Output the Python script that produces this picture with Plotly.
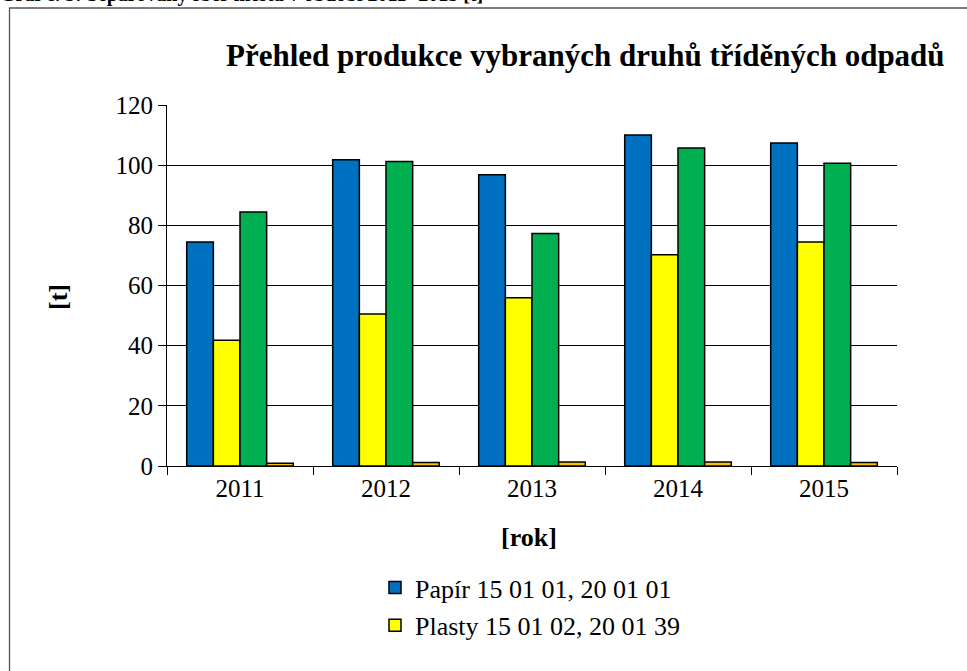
import plotly.graph_objects as go

years = ["2011", "2012", "2013", "2014", "2015"]
papir = [74.5, 101.8, 96.8, 110.0, 107.4]
plasty = [41.8, 50.5, 55.9, 70.2, 74.5]
sklo = [84.4, 101.2, 77.3, 105.7, 100.6]
kovy = [0.9, 1.2, 1.3, 1.3, 1.2]

names = ["Papír 15 01 01, 20 01 01", "Plasty 15 01 02, 20 01 39",
         "Sklo 15 01 07, 20 01 02", "Kovy 15 01 04, 20 01 40"]
colors = ["#0070C0", "#FFFF00", "#00B050", "#FFC000"]
series = [papir, plasty, sklo, kovy]
show = [True, True, False, False]

FONT = "Liberation Serif"

fig = go.Figure()
for nm, col, vals, sh in zip(names, colors, series, show):
    fig.add_trace(go.Bar(x=years, y=vals, name=nm, legendgroup=nm,
                         marker=dict(color=col, line=dict(color="black", width=1.5)),
                         showlegend=sh))

W, H = 967, 671
L, R, T, B = 167, 70, 105, 205
pw, ph = W - L - R, H - T - B

def px(x):
    return (x - L) / pw

def py(y):
    return (H - B - y) / ph

fig.update_layout(
    width=W, height=H,
    margin=dict(l=L, r=R, t=T, b=B),
    paper_bgcolor="white", plot_bgcolor="white",
    font=dict(family=FONT, size=25, color="black"),
    barmode="group", bargap=0.27, bargroupgap=0,
    showlegend=True,
    legend=dict(x=px(375), y=py(564), xanchor="left", yanchor="top",
                font=dict(family=FONT, size=26, color="black"),
                traceorder="grouped", tracegroupgap=1,
                bgcolor="rgba(0,0,0,0)"),
    xaxis=dict(type="category", showline=True, linecolor="black", linewidth=1,
               ticks="outside", ticklen=8, tickcolor="black", tickson="boundaries",
               tickfont=dict(family=FONT, size=25, color="black"),
               showgrid=False),
    yaxis=dict(range=[0, 120], dtick=20, showline=True, linecolor="black", linewidth=1,
               ticks="outside", ticklen=8, tickcolor="black",
               showgrid=True, gridcolor="black", gridwidth=1, zeroline=False,
               tickfont=dict(family=FONT, size=25, color="black")),
)

fig.add_annotation(text="<b>Přehled produkce vybraných druhů tříděných odpadů</b>",
                   xref="paper", yref="paper", x=px(585), y=py(56),
                   xanchor="center", yanchor="middle", showarrow=False,
                   font=dict(family=FONT, size=31, color="black"))
fig.add_annotation(text="<b>[rok]</b>", xref="paper", yref="paper",
                   x=px(529), y=py(537), xanchor="center", yanchor="middle",
                   showarrow=False, font=dict(family=FONT, size=26, color="black"))
fig.add_annotation(text="<b>[t]</b>", xref="paper", yref="paper",
                   x=px(58), y=py(297), xanchor="center", yanchor="middle",
                   textangle=-90, showarrow=False,
                   font=dict(family=FONT, size=26, color="black"))
fig.add_annotation(text="<b>Graf č. 5: Separovaný sběr města v období 2011- 2015 [t]</b>",
                   xref="paper", yref="paper", x=px(-2), y=py(8),
                   xanchor="left", yanchor="bottom", showarrow=False,
                   font=dict(family=FONT, size=20, color="black"))

fig.add_shape(type="rect", xref="paper", yref="paper",
              x0=px(9.5), x1=px(990), y0=py(8), y1=py(700),
              line=dict(color="#555555", width=1.3), fillcolor="rgba(0,0,0,0)", layer="below")

fig.write_html("out.html", config={"displayModeBar": False},
               post_script="document.body.style.margin='0';")
